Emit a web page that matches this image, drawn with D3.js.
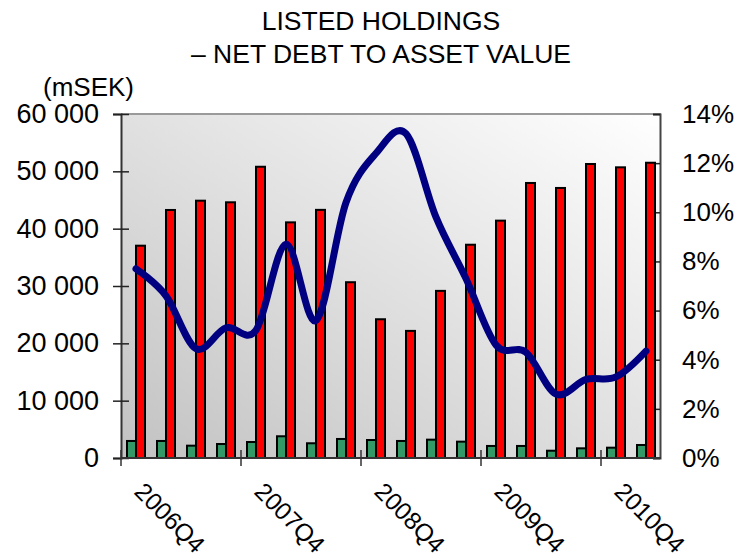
<!DOCTYPE html>
<html>
<head>
<meta charset="utf-8">
<script src="https://cdn.jsdelivr.net/npm/d3@7"></script>
<style>
  body { margin: 0; background: #fff; }
  text { font-family: "Liberation Sans", Arial, sans-serif; fill: #000; }
</style>
</head>
<body>
<div id="chart"></div>
<script>
var quarters = ['2006Q4','2007Q1','2007Q2','2007Q3','2007Q4','2008Q1','2008Q2','2008Q3','2008Q4',
                '2009Q1','2009Q2','2009Q3','2009Q4','2010Q1','2010Q2','2010Q3','2010Q4','2011Q1']
var netDebt = [2970, 2970, 2150, 2440, 2790, 3790, 2570, 3320, 3140, 2970, 3200, 2850, 2100, 2100, 1270, 1690, 1800, 2270]
var assetValue = [37030, 43260, 44880, 44600, 50800, 41100, 43280, 30660, 24200, 22170, 29150, 37200, 41400, 47970, 47100, 51280, 50700, 51500]
var ratio = [7.7, 6.6, 4.45, 5.3, 5.2, 8.7, 5.6, 10.4, 12.4, 13.2, 9.8, 7.3, 4.6, 4.3, 2.6, 3.2, 3.3, 4.35]
var leftTicks = [0, 10000, 20000, 30000, 40000, 50000, 60000]
var rightTicks = [0, 2, 4, 6, 8, 10, 12, 14]

width = 742
height = 559
var plotL = 121, plotR = 661, plotT = 114, plotB = 458

var svg = d3.select('#chart').append('svg').attr('width', width).attr('height', height)

var defs = svg.append('defs')
var grad = defs.append('linearGradient').attr('id', 'bg')
  .attr('x1', 0).attr('y1', 1).attr('x2', 1).attr('y2', 0)
grad.append('stop').attr('offset', '0%').attr('stop-color', '#c2c2c2')
grad.append('stop').attr('offset', '100%').attr('stop-color', '#ffffff')

x = d3.scaleBand().domain(quarters).range([plotL, plotR])
inner = d3.scaleBand().domain(['debt', 'asset']).range([0, x.bandwidth()]).paddingOuter(0.667)
y = d3.scaleLinear().domain([0, 60000]).range([plotB, plotT])
yPct = d3.scaleLinear().domain([0, 14]).range([plotB, plotT])

// plot background
svg.append('rect').attr('x', plotL).attr('y', plotT).attr('width', plotR - plotL).attr('height', plotB - plotT)
  .attr('fill', 'url(#bg)')
svg.append('line').attr('x1', plotL).attr('x2', plotR).attr('y1', plotT).attr('y2', plotT)
  .attr('stroke', '#9a9a9a').attr('stroke-width', 2)

// title
svg.append('text').attr('x', 381).attr('y', 30).attr('text-anchor', 'middle').attr('font-size', 26.5).text('LISTED HOLDINGS')
svg.append('text').attr('x', 381).attr('y', 63).attr('text-anchor', 'middle').attr('font-size', 26.5).text('\u2013 NET DEBT TO ASSET VALUE')
svg.append('text').attr('x', 43).attr('y', 96).attr('font-size', 26).text('(mSEK)')

// left axis
var leftAxis = d3.axisLeft(y).tickValues(leftTicks).tickSize(8).tickPadding(14)
  .tickFormat(function(d) { return d3.format(',')(d).replace(/,/g, ' ') })
var gl = svg.append('g').attr('transform', 'translate(' + plotL + ',0)').call(leftAxis)
gl.select('.domain').attr('stroke', '#333').attr('stroke-width', 2)
gl.selectAll('.tick line').attr('x1', 8).attr('x2', -8).attr('stroke', '#222').attr('stroke-width', 1.5)
gl.selectAll('.tick text').attr('font-size', 27).attr('font-family', '"Liberation Sans", Arial, sans-serif').attr('fill', '#000')

// right axis
var rightAxis = d3.axisRight(yPct).tickValues(rightTicks).tickSize(-7).tickPadding(22)
  .tickFormat(function(d) { return d + '%' })
var gr = svg.append('g').attr('transform', 'translate(' + (plotR - 1) + ',0)').call(rightAxis)
gr.select('.domain').attr('stroke', '#444').attr('stroke-width', 2)
gr.selectAll('.tick line').attr('stroke', '#222').attr('stroke-width', 1.5)
gr.selectAll('.tick text').attr('font-size', 26).attr('font-family', '"Liberation Sans", Arial, sans-serif').attr('fill', '#000')

// bars
svg.append('g').selectAll('rect').data(quarters).join('rect')
  .attr('x', (d, i) => x(d) + inner('debt'))
  .attr('y', (d, i) => y(netDebt[i]))
  .attr('width', inner.bandwidth())
  .attr('height', (d, i) => plotB - y(netDebt[i]))
  .attr('fill', '#339966').attr('stroke', '#000').attr('stroke-width', 2)

svg.append('g').selectAll('rect').data(quarters).join('rect')
  .attr('x', (d, i) => x(d) + inner('asset'))
  .attr('y', (d, i) => y(assetValue[i]))
  .attr('width', inner.bandwidth())
  .attr('height', (d, i) => plotB - y(assetValue[i]))
  .attr('fill', '#ff0000').attr('stroke', '#000').attr('stroke-width', 2)

// bottom axis
svg.append('line').attr('x1', plotL).attr('x2', plotR).attr('y1', plotB).attr('y2', plotB)
  .attr('stroke', '#333').attr('stroke-width', 2)
var catTicks = quarters.filter((d, i) => i % 4 == 0)
svg.append('g').selectAll('line').data(catTicks).join('line')
  .attr('x1', d => x(d)).attr('x2', d => x(d)).attr('y1', plotB - 8).attr('y2', plotB + 8)
  .attr('stroke', '#333').attr('stroke-width', 1.5)
svg.append('g').selectAll('text').data(catTicks).join('text')
  .attr('transform', d => 'translate(' + (x(d) + x.bandwidth() / 2 + 10) + ',' + (plotB + 22) + ') rotate(45)')
  .attr('font-size', 24.5).attr('dy', '0.75em')
  .text(d => d)

// ratio line
var line = d3.line()
  .x((d, i) => x(quarters[i]) + x.bandwidth() / 2)
  .y(d => yPct(d))
  .curve(d3.curveCardinal.tension(0))
svg.append('path').datum(ratio).attr('d', line)
  .attr('fill', 'none').attr('stroke', '#000080').attr('stroke-width', 7)
  .attr('stroke-linejoin', 'round').attr('stroke-linecap', 'round')
</script>
</body>
</html>
